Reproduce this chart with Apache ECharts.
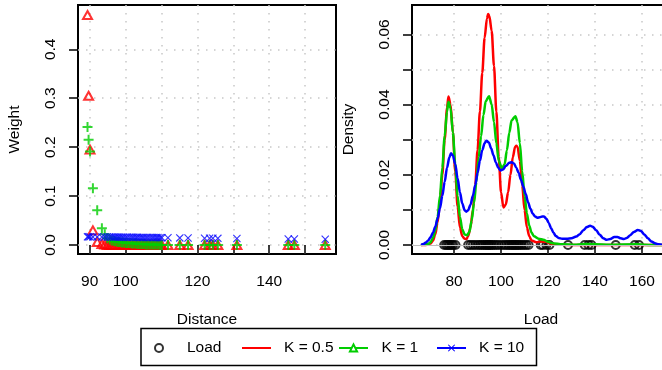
<!DOCTYPE html>
<html>
<head>
<meta charset="utf-8">
<script src="https://cdn.jsdelivr.net/npm/echarts@6/dist/echarts.min.js"></script>
<style>
  html, body { margin: 0; padding: 0; background: #fff; }
  #chart { width: 662px; height: 370px; }
</style>
</head>
<body>
<div id="chart"></div>
<script>
// left panel: weight of each observation by distance, for three K values
const distance = [89.4, 89.7, 90.1, 90.9, 92.1, 93.4, 94.2, 94.9, 95.6, 96.2, 96.8, 97.3, 97.9, 98.4, 99.0, 99.5,
  100.1, 100.6, 101.2, 101.8, 102.3, 102.9, 103.4, 104.0, 104.6, 105.1, 105.7, 106.2, 106.8, 107.4, 107.9, 108.5,
  109.0, 109.6, 110.1, 111.8, 115.1, 117.4, 122.0, 123.4, 124.3, 125.7, 131.0, 145.3, 147.0, 155.6];
const weightK05 = [0.470, 0.305, 0.195, 0.030, 0.006, 0.002, 0.001, 0, 0, 0, 0, 0, 0, 0, 0, 0,
  0, 0, 0, 0, 0, 0, 0, 0, 0, 0, 0, 0, 0, 0, 0, 0,
  0, 0, 0, 0, 0, 0, 0, 0, 0, 0, 0, 0, 0, 0];
const weightK1 = [0.241, 0.215, 0.191, 0.116, 0.071, 0.034, 0.022, 0.014, 0.011, 0.009, 0.008, 0.007, 0.006, 0.006, 0.005, 0.005,
  0.004, 0.004, 0.004, 0.003, 0.003, 0.003, 0.002, 0.002, 0.002, 0.002, 0.001, 0.001, 0.001, 0.001, 0.001, 0.001,
  0.001, 0, 0, 0, 0, 0, 0, 0, 0, 0, 0, 0, 0, 0];
const weightK10 = [0.0166, 0.0166, 0.0166, 0.0165, 0.0165, 0.0164, 0.0164, 0.0163, 0.0163, 0.0162, 0.0162, 0.0161, 0.0161, 0.0160, 0.0160, 0.0159,
  0.0159, 0.0158, 0.0158, 0.0157, 0.0157, 0.0156, 0.0156, 0.0155, 0.0155, 0.0154, 0.0154, 0.0153, 0.0153, 0.0152, 0.0152, 0.0151,
  0.0151, 0.0150, 0.0150, 0.0148, 0.0145, 0.0143, 0.0139, 0.0138, 0.0137, 0.0136, 0.0132, 0.0123, 0.0122, 0.0117];

// right panel: observed loads (rug) and weighted density curves [load, density]
const loads = [75.8, 76.6, 77.2, 77.8, 78.3, 79.0, 79.6, 80.6,
  86.0, 87.0, 88.0, 89.0, 90.1, 91.0, 91.8, 92.6, 93.3, 93.9, 94.5, 95.0, 95.6, 96.3, 97.1, 98.0, 99.0,
  100.2, 101.3, 102.2, 103.0, 103.7, 104.4, 105.0, 105.6, 106.2, 106.8, 107.4, 108.1, 108.9, 109.8, 110.7, 111.7,
  116.9, 117.8, 119.3, 120.6, 128.5, 135.6, 137.2, 138.5, 148.8, 156.9, 158.7];
const densK05 = [[66, 0], [68, 0], [70, 0.0004], [71, 0.0012], [72, 0.003], [73, 0.0065], [74, 0.012], [75, 0.020],
  [76, 0.030], [77, 0.039], [77.6, 0.0423], [78.5, 0.040], [79.5, 0.032], [80.5, 0.021], [81.5, 0.011], [82.5, 0.005],
  [83.5, 0.0025], [84.5, 0.0018], [85.3, 0.0017], [86, 0.0025], [87, 0.005], [88, 0.010], [89, 0.017], [90, 0.027],
  [91, 0.038], [92, 0.049], [93, 0.059], [94, 0.0645], [94.5, 0.0658], [95, 0.0652], [96, 0.061], [97, 0.051],
  [98, 0.038], [99, 0.025], [100, 0.015], [101, 0.0107], [102, 0.0115], [103, 0.015], [104, 0.020], [105, 0.025],
  [106, 0.028], [106.5, 0.0283], [107, 0.028], [108, 0.024], [109, 0.017], [110, 0.010], [111, 0.005], [112, 0.0025],
  [113, 0.0013], [115, 0.0008], [117, 0.001], [119, 0.0009], [121, 0.0004], [124, 0.0001], [128, 0], [170, 0]];
const densK1 = [[66, 0], [69, 0.0003], [70, 0.0008], [71, 0.002], [72, 0.004], [73, 0.008], [74, 0.014], [75, 0.022],
  [76, 0.031], [77, 0.038], [77.6, 0.0408], [78.5, 0.039], [79.5, 0.032], [80.5, 0.023], [81.5, 0.014], [82.5, 0.008],
  [83.5, 0.0045], [84.5, 0.003], [85.6, 0.0028], [86.5, 0.0037], [87.5, 0.007], [88.5, 0.012], [89.5, 0.018],
  [90.5, 0.025], [91.5, 0.031], [92.5, 0.037], [93.5, 0.041], [94.9, 0.0424], [96, 0.040], [97, 0.035], [98, 0.029],
  [99, 0.024], [100.4, 0.0218], [101.5, 0.023], [102.5, 0.027], [103.5, 0.032], [104.5, 0.0355], [106.1, 0.0367],
  [107, 0.035], [108, 0.029], [109, 0.021], [110, 0.014], [111, 0.009], [112, 0.0055], [113, 0.0035], [114, 0.0025],
  [116, 0.0018], [118, 0.0015], [120, 0.0009], [122, 0.0005], [126, 0.0002], [132, 0.0001], [137, 0.0003],
  [140, 0.0002], [146, 0.0001], [158, 0.0002], [164, 0], [170, 0]];
const densK10 = [[66, 0], [67, 0.0003], [68, 0.0007], [69, 0.0013], [70, 0.0022], [71, 0.0035], [72, 0.0052],
  [73, 0.0075], [74, 0.0105], [75, 0.014], [76, 0.018], [77, 0.022], [78, 0.025], [78.7, 0.0261], [79.5, 0.0255],
  [80.5, 0.023], [81.5, 0.019], [82.5, 0.015], [83.5, 0.0118], [84.5, 0.0099], [85.2, 0.0095], [86, 0.0099],
  [87, 0.0115], [88, 0.014], [89, 0.017], [90, 0.0205], [91, 0.024], [92, 0.027], [93, 0.029], [93.8, 0.0297],
  [94.8, 0.0292], [95.8, 0.0275], [96.8, 0.0255], [97.8, 0.0235], [98.8, 0.022], [99.8, 0.0212], [100.8, 0.0215],
  [102, 0.0225], [103.5, 0.0234], [104.5, 0.0236], [105.5, 0.0232], [106.5, 0.022], [107.5, 0.0205], [108.5, 0.0185],
  [109.5, 0.0166], [110.5, 0.0145], [111.5, 0.0122], [112.5, 0.0103], [113.5, 0.0089], [114.5, 0.0081],
  [115.5, 0.0078], [116.5, 0.0079], [117.5, 0.0081], [118.3, 0.0081], [119.3, 0.0075], [120.3, 0.0063],
  [121.3, 0.0048], [122.3, 0.0035], [123.3, 0.0026], [124.5, 0.002], [126, 0.0018], [128, 0.0018], [130, 0.0019],
  [132, 0.0024], [133.5, 0.0031], [135, 0.0042], [136.5, 0.0051], [137.9, 0.0055], [139, 0.0052], [140.5, 0.0042],
  [142, 0.0029], [143.5, 0.0019], [145, 0.0015], [146.5, 0.0017], [148.2, 0.0023], [149.5, 0.0023], [151, 0.0019],
  [152.3, 0.0017], [153.5, 0.002], [155, 0.0028], [156.5, 0.0037], [158.2, 0.0043], [159.5, 0.004], [161, 0.003],
  [162.5, 0.0019], [164, 0.001], [165.5, 0.0005], [167, 0.0002], [168.5, 0.0001], [170, 0]];

// tick values
const leftXTicks = [90, 100, 110, 120, 130, 140, 150];
const leftXLabels = [90, 100, 120, 140];
const leftYTicks = [0, 0.1, 0.2, 0.3, 0.4];
const rightXTicks = [80, 100, 120, 140, 160];
const rightYTicks = [0, 0.01, 0.02, 0.03, 0.04, 0.05, 0.06];
const rightYLabels = [0, 0.02, 0.04, 0.06];

const red = '#ff0000', green = '#00cd00', blue = '#0000ff';
const font = 'Liberation Sans, Arial, Helvetica, sans-serif';
const fs = 15.5;
const plusPath = 'path://M4,0H6V10H4ZM0,4H10V6H0Z';
const crossPath = 'path://M0,1L1,0L5,4L9,0L10,1L6,5L10,9L9,10L5,6L1,10L0,9L4,5Z';
const gridLine = { show: true, lineStyle: { color: '#c8c8c8', width: 1.5, type: [1.5, 6.5] } };
const tick = { show: true, inside: false, length: 9, lineStyle: { color: '#000', width: 1.5 } };
const labelStyle = { color: '#000', fontSize: fs, fontFamily: font };
const nameStyle = { color: '#000', fontSize: fs, fontFamily: font };

// one legend block per entry, so each sits where the original puts it
function legendItem(item, left, iconW, textPad) {
  return {
    data: [item], left: left, top: 340, padding: 0,
    itemWidth: iconW, itemHeight: iconW === 8 ? 8 : 9,
    selectedMode: false,
    textStyle: { color: '#000', fontSize: fs, fontFamily: font, padding: [0, 0, 0, textPad] }
  };
}

const chart = echarts.init(document.getElementById('chart'), null, { renderer: 'canvas' });

chart.setOption({
  animation: false,
  backgroundColor: '#fff',
  grid: [
    { left: 78, top: 5, width: 258, height: 249, outerBoundsMode: 'none', show: true, borderColor: '#000', borderWidth: 2, backgroundColor: 'transparent' },
    { left: 412, top: 5, width: 258, height: 249, outerBoundsMode: 'none', show: true, borderColor: '#000', borderWidth: 2, backgroundColor: 'transparent' }
  ],
  xAxis: [
    {
      type: 'value', gridIndex: 0, min: 86.75, max: 158.6,
      name: 'Distance', nameLocation: 'middle', nameGap: 58, nameTextStyle: nameStyle,
      axisLine: { show: false },
      axisTick: Object.assign({ customValues: leftXTicks }, tick),
      axisLabel: Object.assign({ customValues: leftXLabels, margin: 20 }, labelStyle),
      splitLine: gridLine
    },
    {
      type: 'value', gridIndex: 1, min: 62.1, max: 171.9,
      name: 'Load', nameLocation: 'middle', nameGap: 58, nameTextStyle: nameStyle,
      axisLine: { show: false },
      axisTick: Object.assign({ customValues: rightXTicks }, tick),
      axisLabel: Object.assign({ customValues: rightXTicks, margin: 20 }, labelStyle),
      splitLine: gridLine
    }
  ],
  yAxis: [
    {
      type: 'value', gridIndex: 0, min: -0.0184, max: 0.4905,
      name: 'Weight', nameLocation: 'middle', nameGap: 55, nameRotate: 90, nameTextStyle: nameStyle,
      axisLine: { show: false },
      axisTick: Object.assign({ customValues: leftYTicks }, tick),
      axisLabel: Object.assign({ customValues: leftYTicks, margin: 19, rotate: 90, formatter: v => v.toFixed(1) }, labelStyle),
      splitLine: gridLine
    },
    {
      type: 'value', gridIndex: 1, min: -0.00256, max: 0.06836,
      name: 'Density', nameLocation: 'middle', nameGap: 55, nameRotate: 90, nameTextStyle: nameStyle,
      axisLine: { show: false },
      axisTick: Object.assign({ customValues: rightYTicks }, tick),
      axisLabel: Object.assign({ customValues: rightYLabels, margin: 19, rotate: 90, formatter: v => v.toFixed(2) }, labelStyle),
      splitLine: gridLine
    }
  ],
  legend: [
    legendItem({ name: 'Load' }, 154, 8, 19),
    legendItem({ name: 'K = 0.5', itemStyle: { opacity: 0 } }, 241, 29, 8),
    legendItem({ name: 'K = 1' }, 338, 29, 8.5),
    legendItem({ name: 'K = 10' }, 436, 29, 8)
  ],
  graphic: [{
    type: 'rect', silent: true,
    shape: { x: 141, y: 328.5, width: 395.5, height: 37 },
    style: { fill: 'none', stroke: '#000', lineWidth: 1.5 }
  }],
  series: [
    // left panel points
    {
      name: 'w K = 0.5', type: 'scatter', xAxisIndex: 0, yAxisIndex: 0,
      symbol: 'triangle', symbolSize: [9, 8],
      itemStyle: { color: 'transparent', borderColor: red, borderWidth: 2 },
      data: distance.map((d, i) => [d, weightK05[i]])
    },
    {
      name: 'w K = 1', type: 'scatter', xAxisIndex: 0, yAxisIndex: 0,
      symbol: plusPath, symbolSize: 10,
      itemStyle: { color: green },
      data: distance.map((d, i) => [d, weightK1[i]])
    },
    {
      name: 'w K = 10', type: 'scatter', xAxisIndex: 0, yAxisIndex: 0,
      symbol: crossPath, symbolSize: 8,
      itemStyle: { color: blue },
      data: distance.map((d, i) => [d, weightK10[i]])
    },
    // right panel density curves
    {
      name: 'K = 0.5', type: 'line', xAxisIndex: 1, yAxisIndex: 1,
      smooth: 0.3, smoothMonotone: 'x', symbol: 'none',
      lineStyle: { color: red, width: 2.5 }, itemStyle: { color: red },
      data: densK05
    },
    {
      name: 'K = 1', type: 'line', xAxisIndex: 1, yAxisIndex: 1,
      smooth: 0.3, smoothMonotone: 'x', symbol: 'emptyTriangle', showSymbol: false,
      lineStyle: { color: green, width: 2.5 }, itemStyle: { color: green },
      data: densK1
    },
    {
      name: 'K = 10', type: 'line', xAxisIndex: 1, yAxisIndex: 1,
      smooth: 0.3, smoothMonotone: 'x', symbol: crossPath, showSymbol: false,
      lineStyle: { color: blue, width: 2.5 }, itemStyle: { color: blue },
      data: densK10
    },
    {
      name: 'Load', type: 'scatter', xAxisIndex: 1, yAxisIndex: 1,
      symbol: 'circle', symbolSize: 8,
      itemStyle: { color: 'transparent', borderColor: '#000', borderWidth: 2 },
      markLine: {
        silent: true, symbol: 'none', label: { show: false },
        lineStyle: { color: '#bebebe', width: 1, type: 'solid' },
        data: [{ yAxis: 0 }]
      },
      data: loads.map(v => [v, 0])
    }
  ]
});

window.addEventListener('resize', () => chart.resize());
</script>
</body>
</html>
